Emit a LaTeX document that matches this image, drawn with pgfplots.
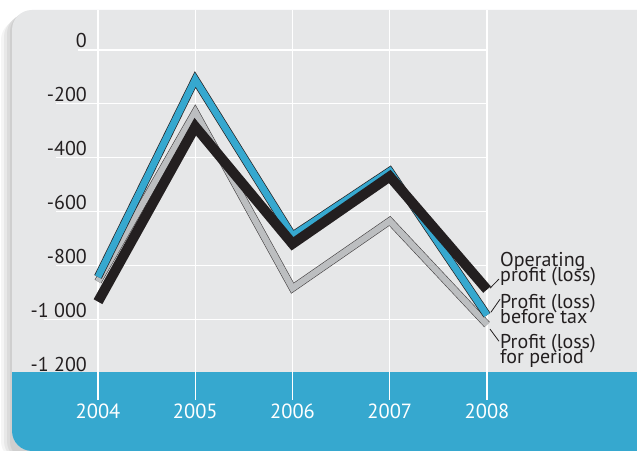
\documentclass[border=0pt]{standalone}
\usepackage{pgfplots}
\pgfplotsset{compat=1.18}
\usepackage{fontspec}
\setmainfont{PT Sans}
\definecolor{panel}{HTML}{E6E7E8}
\definecolor{band}{HTML}{36A8CF}
\definecolor{ink}{HTML}{231F20}
\definecolor{lgray}{HTML}{BCBEC0}
\newcommand{\lbl}{\fontsize{20bp}{20bp}\selectfont}
\newcommand{\xlbl}{\fontsize{20.5bp}{20bp}\selectfont}
\newcommand{\two}[2]{\vtop{\baselineskip=15bp\lineskiplimit=-100bp\lineskip=0pt\hbox{#1}\hbox{#2}}}
\begin{document}
\begin{tikzpicture}
\useasboundingbox (0,0) rectangle (637bp,451bp);
\clip (0,0) rectangle (637bp,451bp);
\fill[white] (0,0) rectangle (637bp,451bp);
% shadow
\fill[black!4, rounded corners=20bp] (700bp,431bp) -- (1bp,431bp) -- (1bp,-10bp) -- (700bp,-10bp) -- cycle;
\fill[black!9, rounded corners=20bp] (700bp,434bp) -- (4bp,434bp) -- (4bp,-10bp) -- (700bp,-10bp) -- cycle;
\fill[black!14, rounded corners=20bp] (700bp,437bp) -- (7bp,437bp) -- (7bp,-10bp) -- (700bp,-10bp) -- cycle;
\fill[black!19, rounded corners=20bp] (700bp,439bp) -- (10bp,439bp) -- (10bp,-10bp) -- (700bp,-10bp) -- cycle;
% panel
\fill[panel, rounded corners=20bp] (700bp,441bp) -- (12bp,441bp) -- (12bp,0bp) -- (700bp,0bp) -- cycle;
\begin{scope}
\clip (0,0) rectangle (637bp,78bp);
\fill[band, rounded corners=20bp] (700bp,441bp) -- (12bp,441bp) -- (12bp,0bp) -- (700bp,0bp) -- cycle;
\end{scope}
\begin{axis}[
  at={(98bp,78bp)}, anchor=south west,
  scale only axis, width=389bp, height=323bp,
  xmin=2004, xmax=2008, ymin=-1200, ymax=0,
  clip=false,
  axis line style={draw=none},
  tick style={draw=none},
  xtick={2004,2005,2006,2007,2008},
  xticklabels={2004,2005,2006,2007,2008},
  ytick={-1200,-1000,-800,-600,-400,-200,0},
  yticklabels={-1 200,-1 000,-800,-600,-400,-200,0},
  yticklabel style={font=\lbl, text=ink, anchor=base east, inner sep=0pt, xshift=-11bp, yshift=2bp},
  xticklabel style={font=\xlbl, text=white, anchor=base, inner sep=0pt, yshift=-45.5bp},
]
% grid
\foreach \yr in {2004,2005,2006,2007,2008} {
  \edef\tmp{\noexpand\draw[white, line width=1.3bp] (axis cs:\yr,149) -- (axis cs:\yr,-1301);}
  \tmp
}
\draw[white, line width=1.3bp] (axis cs:2003.794,0) -- (axis cs:2008,0);
\draw[white, line width=1.3bp] (axis cs:2003.568,-200) -- (axis cs:2008,-200);
\draw[white, line width=1.3bp] (axis cs:2003.568,-400) -- (axis cs:2008,-400);
\draw[white, line width=1.3bp] (axis cs:2003.568,-600) -- (axis cs:2008,-600);
\draw[white, line width=1.3bp] (axis cs:2003.568,-800) -- (axis cs:2008,-800);
\draw[white, line width=1.3bp] (axis cs:2003.445,-1000) -- (axis cs:2008,-1000);
% Profit (loss) for period
\addplot[ink!85, line width=7.5bp, line cap=butt, line join=miter, mark=none] coordinates {(2004,-860) (2005,-230) (2006,-885) (2007,-635) (2008,-1020)};
\addplot[lgray, line width=6.3bp, line cap=butt, line join=miter, mark=none] coordinates {(2004,-860) (2005,-230) (2006,-885) (2007,-635) (2008,-1020)};
% Profit (loss) before tax
\addplot[ink, line width=8.2bp, line cap=butt, line join=miter, mark=none] coordinates {(2004,-843) (2005,-110) (2006,-690) (2007,-450) (2008,-985)};
\addplot[band, line width=6.8bp, line cap=butt, line join=miter, mark=none] coordinates {(2004,-843) (2005,-110) (2006,-690) (2007,-450) (2008,-985)};
% Operating profit (loss)
\addplot[ink, line width=10bp, line cap=butt, line join=miter, mark=none] coordinates {(2004,-935) (2005,-285) (2006,-720) (2007,-470) (2008,-890)};
% leaders
\draw[ink, line width=0.8bp] (axis cs:2008.031,-885) -- (axis cs:2008.123,-851);
\draw[ink, line width=0.8bp] (axis cs:2008.041,-974) -- (axis cs:2008.134,-926);
\draw[ink, line width=0.8bp] (axis cs:2008.031,-1037) -- (axis cs:2008.123,-1082);
% labels
\node[anchor=base west, inner sep=0pt, text=ink, font=\lbl] at (axis cs:2008.134,-804) {\two{Operating}{profit (loss)}};
\node[anchor=base west, inner sep=0pt, text=ink, font=\lbl] at (axis cs:2008.134,-960) {\two{Profit (loss)}{before tax}};
\node[anchor=base west, inner sep=0pt, text=ink, font=\lbl] at (axis cs:2008.134,-1109) {\two{Profit (loss)}{for period}};
\end{axis}
\end{tikzpicture}
\end{document}
